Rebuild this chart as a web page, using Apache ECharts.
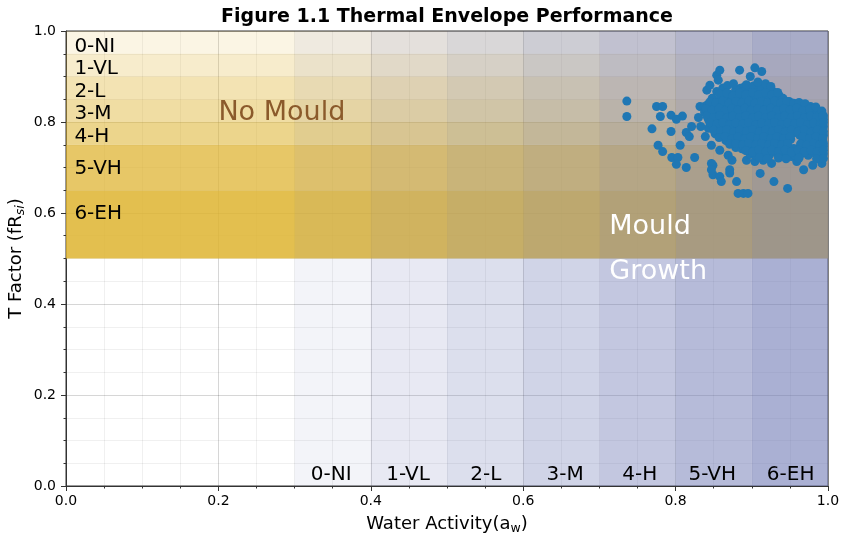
<!DOCTYPE html>
<html>
<head>
<meta charset="utf-8">
<script src="https://cdn.jsdelivr.net/npm/echarts@6/dist/echarts.min.js"></script>
<style>html,body{margin:0;padding:0;background:#fff}#c{width:841px;height:541px}</style>
</head>
<body>
<div id="c"></div>
<script>
// ---------------- data ----------------
const titleText = 'Figure 1.1 Thermal Envelope Performance';
const riskLabels = ['0-NI', '1-VL', '2-L', '3-M', '4-H', '5-VH', '6-EH'];
// T-factor risk bands (upper edge first)
const yBandEdges = [1.0, 0.95, 0.90, 0.85, 0.80, 0.75, 0.65, 0.50];
// water activity risk bands
const xBandEdges = [0.3, 0.4, 0.5, 0.6, 0.7, 0.8, 0.9, 1.0];

// measured points (water activity, T factor) - scattered ones
const outlierPoints = [
  [0.736,0.846],[0.736,0.812],[0.775,0.834],[0.783,0.834],[0.780,0.812],[0.794,0.815],
  [0.801,0.806],[0.809,0.813],[0.769,0.785],[0.794,0.779],[0.814,0.777],[0.821,0.790],
  [0.818,0.768],[0.777,0.749],[0.783,0.735],[0.806,0.749],[0.795,0.722],[0.803,0.722],
  [0.801,0.707],[0.814,0.700],[0.825,0.722],[0.832,0.834],[0.838,0.834],[0.841,0.870],
  [0.845,0.881],[0.854,0.903],[0.858,0.914],[0.856,0.892],[0.884,0.914],[0.904,0.919],
  [0.898,0.900],[0.913,0.911],[0.854,0.867],[0.862,0.875],[0.885,0.874],[0.891,0.878],
  [0.839,0.768],[0.843,0.786],[0.847,0.749],[0.849,0.705],[0.849,0.684],[0.858,0.738],
  [0.869,0.727],[0.874,0.716],[0.847,0.709],[0.847,0.695],[0.858,0.680],[0.860,0.669],
  [0.871,0.695],[0.871,0.688],[0.880,0.669],[0.882,0.643],[0.889,0.643],[0.895,0.643],
  [0.911,0.687],[0.929,0.669],[0.947,0.654],[0.968,0.695],[0.980,0.705],[0.992,0.709],
  [0.893,0.716],[0.904,0.713],[0.915,0.716],[0.926,0.709],[0.941,0.731],[0.952,0.724],
  [0.959,0.713],[0.976,0.731],[0.860,0.784],[0.830,0.810],[0.833,0.790]
];
// measured points - dense cluster
const clusterPoints = [
  [0.862,0.868],[0.871,0.861],[0.879,0.872],[0.888,0.866],[0.896,0.874],[0.904,0.868],[0.912,0.877],[0.921,0.872],[0.929,0.866],[0.936,0.858],
  [0.848,0.852],[0.857,0.847],[0.866,0.855],[0.874,0.849],[0.883,0.856],[0.891,0.851],[0.899,0.857],[0.907,0.852],[0.916,0.859],[0.924,0.853],[0.932,0.849],[0.941,0.852],[0.949,0.845],
  [0.842,0.838],[0.851,0.834],[0.860,0.839],[0.868,0.832],[0.877,0.837],[0.885,0.831],[0.894,0.839],[0.902,0.834],[0.911,0.838],[0.919,0.831],[0.927,0.836],[0.936,0.833],[0.944,0.838],[0.953,0.832],[0.961,0.836],[0.969,0.831],[0.977,0.834],[0.985,0.826],
  [0.838,0.822],[0.846,0.818],[0.855,0.823],[0.863,0.817],[0.872,0.821],[0.880,0.816],[0.889,0.822],[0.897,0.818],[0.906,0.823],[0.914,0.817],[0.922,0.821],[0.931,0.816],[0.939,0.822],[0.948,0.818],[0.956,0.823],[0.964,0.817],[0.973,0.821],[0.981,0.816],[0.990,0.820],[0.994,0.814],
  [0.843,0.806],[0.852,0.801],[0.860,0.807],[0.869,0.803],[0.877,0.808],[0.886,0.802],[0.894,0.806],[0.903,0.801],[0.911,0.807],[0.920,0.803],[0.928,0.808],[0.937,0.802],[0.945,0.806],[0.954,0.801],[0.962,0.807],[0.970,0.803],[0.979,0.808],[0.987,0.802],[0.994,0.806],
  [0.848,0.790],[0.856,0.786],[0.865,0.791],[0.873,0.787],[0.882,0.792],[0.890,0.786],[0.899,0.790],[0.907,0.786],[0.916,0.791],[0.924,0.787],[0.933,0.792],[0.941,0.786],[0.950,0.790],[0.958,0.786],[0.967,0.791],[0.975,0.787],[0.983,0.792],[0.992,0.786],[0.994,0.790],
  [0.852,0.774],[0.861,0.771],[0.869,0.776],[0.878,0.772],[0.886,0.777],[0.895,0.771],[0.903,0.775],[0.912,0.771],[0.920,0.776],[0.929,0.772],[0.937,0.777],[0.946,0.771],[0.954,0.775],[0.963,0.771],[0.971,0.776],[0.980,0.772],[0.988,0.777],[0.994,0.771],
  [0.866,0.759],[0.874,0.756],[0.883,0.761],[0.891,0.757],[0.900,0.762],[0.908,0.756],[0.917,0.760],[0.925,0.756],[0.934,0.761],[0.942,0.757],[0.951,0.762],[0.968,0.760],[0.976,0.756],[0.985,0.761],[0.993,0.757],
  [0.879,0.744],[0.887,0.741],[0.896,0.746],[0.904,0.742],[0.913,0.747],[0.921,0.741],[0.930,0.745],[0.938,0.741],[0.947,0.746],[0.955,0.742],[0.964,0.747],[0.972,0.741],[0.981,0.745],[0.989,0.741],[0.994,0.746],
  [0.898,0.729],[0.906,0.726],[0.915,0.731],[0.923,0.727],[0.932,0.732],[0.940,0.726],[0.949,0.730],[0.957,0.726],[0.966,0.731],[0.974,0.727],[0.983,0.732],[0.991,0.726],[0.994,0.730]
];
// measured points - cluster infill
const clusterInfill = [
  [0.868,0.880],[0.876,0.884],[0.893,0.882],[0.902,0.879],[0.908,0.888],[0.918,0.884],[0.925,0.878],
  [0.858,0.861],[0.867,0.864],[0.875,0.858],[0.884,0.863],[0.892,0.860],[0.901,0.865],[0.909,0.860],[0.918,0.865],[0.926,0.860],[0.934,0.865],
  [0.845,0.844],[0.853,0.842],[0.862,0.846],[0.870,0.841],[0.879,0.845],[0.887,0.842],[0.896,0.846],[0.904,0.841],[0.913,0.845],[0.921,0.842],[0.930,0.846],[0.938,0.841],[0.946,0.845],[0.955,0.841],[0.962,0.843],[0.970,0.840],
  [0.840,0.829],[0.848,0.826],[0.857,0.830],[0.865,0.825],[0.874,0.829],[0.882,0.826],[0.891,0.830],[0.899,0.825],[0.908,0.829],[0.916,0.826],[0.925,0.830],[0.933,0.825],[0.942,0.829],[0.950,0.826],[0.959,0.830],[0.967,0.825],[0.976,0.829],[0.984,0.833],[0.992,0.824],
  [0.841,0.813],[0.850,0.810],[0.858,0.814],[0.867,0.809],[0.875,0.813],[0.884,0.810],[0.892,0.814],[0.901,0.809],[0.909,0.813],[0.918,0.810],[0.926,0.814],[0.935,0.809],[0.943,0.813],[0.952,0.810],[0.960,0.814],[0.969,0.809],[0.977,0.813],[0.985,0.810],[0.993,0.813],
  [0.845,0.798],[0.854,0.795],[0.862,0.799],[0.871,0.794],[0.879,0.798],[0.888,0.795],[0.896,0.799],[0.905,0.794],[0.913,0.798],[0.922,0.795],[0.930,0.799],[0.939,0.794],[0.947,0.798],[0.956,0.795],[0.964,0.799],[0.973,0.794],[0.981,0.798],[0.990,0.795],[0.994,0.799],
  [0.850,0.782],[0.859,0.779],[0.867,0.783],[0.876,0.778],[0.884,0.782],[0.893,0.779],[0.901,0.783],[0.910,0.778],[0.918,0.782],[0.927,0.779],[0.935,0.783],[0.944,0.778],[0.952,0.782],[0.961,0.779],[0.969,0.783],[0.978,0.778],[0.986,0.782],[0.994,0.779],
  [0.857,0.766],[0.865,0.768],[0.874,0.764],[0.882,0.768],[0.891,0.764],[0.899,0.768],[0.908,0.764],[0.916,0.768],[0.925,0.764],[0.933,0.768],[0.942,0.764],[0.950,0.768],[0.967,0.767],[0.976,0.764],[0.984,0.768],[0.993,0.764],
  [0.871,0.751],[0.879,0.753],[0.888,0.749],[0.896,0.753],[0.905,0.749],[0.913,0.753],[0.922,0.749],[0.930,0.753],[0.939,0.749],[0.947,0.753],[0.964,0.752],[0.972,0.749],[0.981,0.753],[0.989,0.749],[0.994,0.753],
  [0.892,0.737],[0.901,0.734],[0.909,0.738],[0.918,0.734],[0.926,0.738],[0.935,0.734],[0.944,0.738],[0.952,0.734],[0.961,0.738],[0.969,0.734],[0.978,0.738],[0.986,0.734],[0.994,0.738],
  [0.910,0.722],[0.920,0.720],[0.935,0.721],[0.945,0.719],[0.962,0.721],[0.985,0.719],[0.994,0.720]
];

// ---------------- styles ----------------
const FONT = 'DejaVu Sans';
const yellowAlphas = [0.13, 0.25, 0.37, 0.45, 0.56, 0.74, 0.86];
const blueAlphas = [0.083, 0.16, 0.24, 0.32, 0.41, 0.50, 0.59];
const yellowRGB = '222,180,50';
const blueRGB = '110,120,180';

const yellowAreas = riskLabels.map((n, i) => [
  { xAxis: 0, yAxis: yBandEdges[i + 1], itemStyle: { color: `rgba(${yellowRGB},${yellowAlphas[i]})` } },
  { xAxis: 1, yAxis: yBandEdges[i] }
]);
const blueAreas = riskLabels.map((n, i) => [
  { xAxis: xBandEdges[i], yAxis: 0, itemStyle: { color: `rgba(${blueRGB},${blueAlphas[i]})` } },
  { xAxis: xBandEdges[i + 1], yAxis: 1 }
]);

// label anchors (data coords)
const leftLabelY = [0.965, 0.916, 0.866, 0.818, 0.767, 0.697, 0.598];
const bottomLabelX = [0.348, 0.449, 0.551, 0.655, 0.753, 0.848, 0.951];
const leftLabels = riskLabels.map((t, i) => [0.011, leftLabelY[i], t]);
const bottomLabels = riskLabels.map((t, i) => [bottomLabelX[i], 0.024, t]);

const chart = echarts.init(document.getElementById('c'), null, { renderer: 'canvas' });

const axisCommon = {
  type: 'value', min: 0, max: 1, interval: 0.2,
  axisLine: { show: true, lineStyle: { color: '#333', width: 1 } },
  axisTick: { show: true, length: 5, lineStyle: { color: '#333' } },
  minorTick: { show: true, splitNumber: 4, length: 2.5, lineStyle: { color: '#333' } },
  splitLine: { show: true, lineStyle: { color: 'rgba(0,0,0,0.16)', width: 1 } },
  minorSplitLine: { show: true, lineStyle: { color: 'rgba(0,0,0,0.06)', width: 1 } },
  axisLabel: { fontFamily: FONT, fontSize: 14, color: '#000', formatter: v => v.toFixed(1) }
};

const textSeries = (data, size, color, align) => ({
  type: 'scatter', z: 6, silent: true, symbolSize: 0, data: data,
  itemStyle: { opacity: 1 },
  label: { show: true, position: [0, 0], align: align, verticalAlign: 'middle', opacity: 1,
           formatter: p => p.value[2], fontFamily: FONT, fontSize: size, color: color }
});

chart.setOption({
  animation: false,
  backgroundColor: '#fff',
  grid: { left: 66, right: 13, top: 31, bottom: 55, outerBoundsMode: 'none', containLabel: false,
          show: true, borderColor: '#333', borderWidth: 1, backgroundColor: 'transparent' },
  graphic: [{
    type: 'text', x: 447, y: 17,
    style: { text: titleText, textAlign: 'center', textVerticalAlign: 'middle', fontFamily: FONT, fontWeight: 'bold', fontSize: 19, fill: '#000' }
  }],
  xAxis: Object.assign({}, axisCommon, {
    axisLabel: Object.assign({}, axisCommon.axisLabel, { margin: 8 }),
    name: 'Water Activity(a{sub|w})',
    nameLocation: 'middle', nameGap: 27,
    nameTextStyle: {
      fontFamily: FONT, fontSize: 18, color: '#000',
      rich: { sub: { fontFamily: FONT, fontSize: 12.5, color: '#000', padding: [9, 0, 0, 0] } }
    }
  }),
  yAxis: Object.assign({}, axisCommon, {
    axisLabel: Object.assign({}, axisCommon.axisLabel, { margin: 10 }),
    name: 'T Factor (fR{sub|si})',
    nameLocation: 'middle', nameGap: 39, nameRotate: 90, nameMoveOverlap: false,
    nameTextStyle: {
      fontFamily: FONT, fontSize: 18, color: '#000',
      rich: { sub: { fontFamily: FONT, fontSize: 12.5, fontStyle: 'italic', color: '#000', padding: [9, 0, 0, 0] } }
    }
  }),
  series: [
    { type: 'scatter', data: [], silent: true, z: 1, markArea: { silent: true, data: yellowAreas, label: { show: false } } },
    { type: 'scatter', data: [], silent: true, z: 1, markArea: { silent: true, data: blueAreas, label: { show: false } } },
    {
      type: 'scatter', name: 'points', z: 5,
      data: outlierPoints.concat(clusterPoints, clusterInfill),
      symbol: 'circle', symbolSize: 9,
      itemStyle: { color: '#1f77b4', opacity: 1 }
    },
    textSeries(leftLabels, 20, '#000', 'left'),
    textSeries(bottomLabels, 20, '#000', 'center'),
    textSeries([[0.2, 0.82, 'No Mould']], 27, '#8b5a2b', 'left'),
    textSeries([[0.713, 0.569, 'Mould'], [0.713, 0.47, 'Growth']], 27, '#fff', 'left')
  ]
});
</script>
</body>
</html>
